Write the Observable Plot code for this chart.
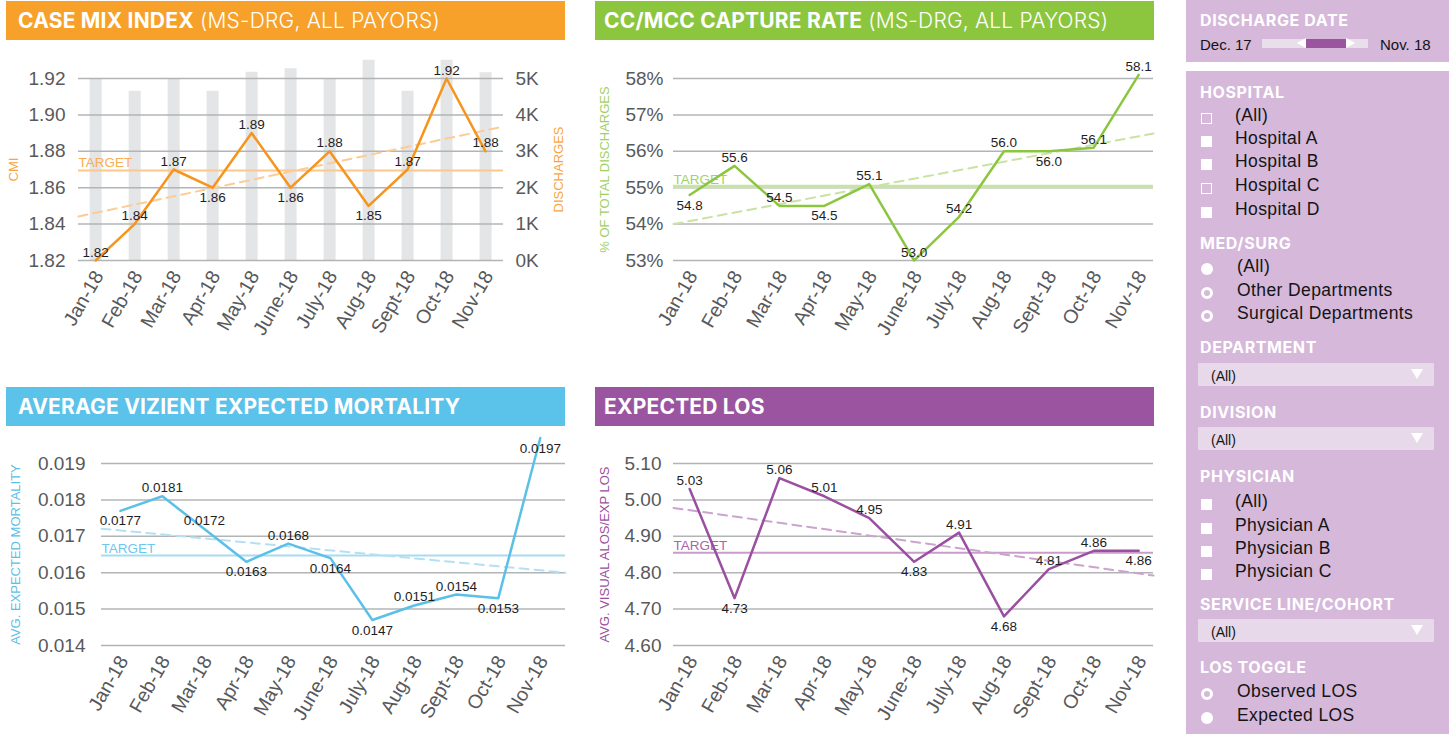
<!DOCTYPE html>
<html><head><meta charset="utf-8">
<script src="https://cdn.jsdelivr.net/npm/d3@7"></script>
<script src="https://cdn.jsdelivr.net/npm/@observablehq/plot@0.6"></script>
<style>
body{margin:0;width:1449px;height:734px;overflow:hidden;background:#fff;position:relative;font-family:"Liberation Sans",Arial,sans-serif}
.hdr{position:absolute;height:39px;color:#fff;font-family:Inter,sans-serif;font-size:21px;display:flex;align-items:center;box-sizing:border-box;white-space:nowrap;letter-spacing:0.2px}
.hdr b{font-weight:700}
.hdr span{font-weight:300}
.chart{position:absolute}
.chart svg{position:absolute;left:0;top:0}
.box{position:absolute;background:#d5b8da}
.abs{position:absolute;line-height:1;white-space:nowrap}
.h{font-family:Inter,sans-serif;font-weight:700;font-size:16px;color:#fff;letter-spacing:0.6px}
.it{font-size:17.5px;color:#141414;letter-spacing:0.4px}
.cb{position:absolute;width:11px;height:11px;box-sizing:border-box}
.cb.on{background:#fff}
.cb.off{border:1.5px solid #fff}
.rd{position:absolute;width:12px;height:12px;border-radius:50%;box-sizing:border-box}
.rd.on{background:#fff}
.rd.off{border:3px solid #fff}
.dd{position:absolute;left:1198px;width:236px;height:23px;background:#e7d9ea}
.dd .t{position:absolute;left:13px;top:6px;font-size:14px;color:#141414;line-height:1}
.dd .a{position:absolute;right:11px;top:6px;width:0;height:0;border-left:6px solid transparent;border-right:6px solid transparent;border-top:10px solid #fff}
</style></head>
<body>
<div class="chart" id="c1" style="left:0;top:40px;width:580px;height:340px"></div>
<div class="chart" id="c2" style="left:590px;top:40px;width:590px;height:340px"></div>
<div class="chart" id="c3" style="left:0;top:425px;width:580px;height:309px"></div>
<div class="chart" id="c4" style="left:590px;top:425px;width:590px;height:309px"></div>

<div class="hdr" style="left:6px;top:1px;width:559px;background:#f7a12a;padding-left:12px"><b>CASE MIX INDEX</b><span>&nbsp;(MS-DRG, ALL PAYORS)</span></div>
<div class="hdr" style="left:595px;top:1px;width:559px;background:#8cc63f;padding-left:9px"><b>CC/MCC CAPTURE RATE</b><span>&nbsp;(MS-DRG, ALL PAYORS)</span></div>
<div class="hdr" style="left:6px;top:387px;width:559px;background:#5bc2e9;padding-left:12px"><b>AVERAGE VIZIENT EXPECTED MORTALITY</b></div>
<div class="hdr" style="left:595px;top:387px;width:559px;background:#9b55a0;padding-left:9px"><b>EXPECTED LOS</b></div>

<div id="side"></div>

<script>
// ---- data ----
const months = ["Jan-18","Feb-18","Mar-18","Apr-18","May-18","June-18","July-18","Aug-18","Sept-18","Oct-18","Nov-18"];

const cmi = [1.82,1.84,1.87,1.86,1.89,1.86,1.88,1.85,1.87,1.92,1.88];
const discharges = [5000,4650,5000,4650,5170,5270,5000,5500,4650,5500,5160];
const cmiTarget = 1.8695;
const cmiTrend = [1.8442,1.8936];
const cmiTicks = [1.82,1.84,1.86,1.88,1.90,1.92];
const dischargeTicks = [0,1000,2000,3000,4000,5000];

const ccRate = [54.8,55.6,54.5,54.5,55.1,53.0,54.2,56.0,56.0,56.1,58.1];
const ccTarget = 55.03;
const ccTrend = [54.0,56.49];
const ccTicks = [53,54,55,56,57,58];

const mortality = [0.0177,0.0181,0.0172,0.0163,0.0168,0.0164,0.0147,0.0151,0.0154,0.0153,0.0197];
const mortTarget = 0.01647;
const mortTrend = [0.01721,0.0160];
const mortTicks = [0.014,0.015,0.016,0.017,0.018,0.019];

const expLos = [5.03,4.73,5.06,5.01,4.95,4.83,4.91,4.68,4.81,4.86,4.86];
const losTarget = 4.855;
const losTrend = [4.978,4.792];
const losTicks = [4.6,4.7,4.8,4.9,5.0,5.1];

// label side (t = above point, b = below point)
const cmiSide  = ["t","t","t","b","t","b","t","b","t","t","t"];
const ccSide   = ["b","t","t","b","t","t","t","t","b","t","t"];
const mortSide = ["b","t","t","b","t","b","b","t","t","b","b"];
const losSide  = ["t","b","t","t","t","b","t","b","t","t","b"];

// ---- drawing ----
const FONT = "Liberation Sans, Arial, sans-serif";
const AXC = "#58595b";
const idx = d3.range(months.length);

function linePanel(c) {
  const data = c.values.map((v,i)=>({i, v, side: c.sides[i]}));
  return Plot.plot({
    width: c.width, height: c.height,
    marginLeft: c.ml, marginRight: c.mr, marginTop: c.mt, marginBottom: c.mb,
    x: {domain: c.xDomain, axis: null},
    y: {domain: c.yDomain, axis: null},
    style: {background: "transparent", overflow: "visible", fontFamily: FONT},
    marks: [
      Plot.gridY(c.yTicks, {stroke: "#b2b4b6", strokeOpacity: 1, strokeWidth: 1.5}),
      Plot.axisY(c.yTicks, {tickSize: 0, tickPadding: c.tickPad, tickFormat: c.yFmt, fontSize: 19, color: AXC, label: null}),
      Plot.axisX(idx, {tickSize: 0, tickPadding: 12, tickRotate: -60, tickFormat: i => months[i], fontSize: 19.5, color: AXC, label: null, dx: 3}),
      Plot.text([c.title], {frameAnchor: "left", textAnchor: "middle", dx: -c.titleDx, rotate: -90, fill: c.titleColor, fontSize: 13}),
      Plot.ruleY([c.target], {stroke: c.targetColor, strokeWidth: c.targetWidth}),
      Plot.text([c.target], {y: d => d, frameAnchor: "left", textAnchor: "start", lineAnchor: "bottom", dy: -3, text: () => "TARGET", fill: c.targetText, fontSize: 13.5}),
      Plot.line(c.trend.map((v,k)=>({x: c.xDomain[k], v})), {x: "x", y: "v", stroke: c.trendColor, strokeWidth: 2, strokeDasharray: "9,6"}),
      Plot.line(data, {x: "i", y: "v", stroke: c.color, strokeWidth: 2.5}),
      Plot.text(data.filter(d=>d.side==="t"), {x: "i", y: "v", text: d => c.fmt(d.v), lineAnchor: "bottom", dy: -4, fontSize: 13.5, fill: "#1e1e1e"}),
      Plot.text(data.filter(d=>d.side==="b"), {x: "i", y: "v", text: d => c.fmt(d.v), lineAnchor: "top", dy: 5, fontSize: 13.5, fill: "#1e1e1e"})
    ]
  });
}

// Panel 1: bars (discharges) underneath, CMI line on top
const p1 = {width: 580, height: 340, ml: 78, mr: 77, mt: 38, mb: 120, xDomain: [-0.44, 10.46]};
const bars = Plot.plot({
  width: p1.width, height: p1.height,
  marginLeft: p1.ml, marginRight: p1.mr, marginTop: p1.mt, marginBottom: p1.mb,
  x: {domain: p1.xDomain, axis: null},
  y: {domain: [0,5000], axis: null},
  style: {background: "transparent", overflow: "visible", fontFamily: FONT},
  marks: [
    Plot.ruleX(discharges.map((d,i)=>({i, d})), {x: "i", y1: 0, y2: "d", stroke: "#e4e5e6", strokeWidth: 12}),
    Plot.axisY(dischargeTicks, {anchor: "right", tickSize: 0, tickPadding: 12, tickFormat: v => (v/1000) + "K", fontSize: 19, color: AXC, label: null}),
    Plot.text(["DISCHARGES"], {frameAnchor: "right", textAnchor: "middle", dx: 55, rotate: -90, fill: "#f8a540", fontSize: 13})
  ]
});
document.getElementById("c1").append(bars);
document.getElementById("c1").append(linePanel({
  ...p1, yDomain: [1.82,1.92], yTicks: cmiTicks, yFmt: d3.format(".2f"), tickPad: 13,
  values: cmi, sides: cmiSide, fmt: d3.format(".2f"),
  target: cmiTarget, trend: cmiTrend,
  color: "#f7941d", targetColor: "#fcc88c", targetWidth: 2, targetText: "#f9ae55", trendColor: "#fdcb94",
  title: "CMI", titleColor: "#f8a540", titleDx: 65
}));

document.getElementById("c2").append(linePanel({
  width: 590, height: 340, ml: 83, mr: 27, mt: 38, mb: 120, xDomain: [-0.36, 10.33],
  yDomain: [53,58], yTicks: ccTicks, yFmt: v => v + "%", tickPad: 10,
  values: ccRate, sides: ccSide, fmt: d3.format(".1f"),
  target: ccTarget, trend: ccTrend,
  color: "#8cc63f", targetColor: "#c8e3a6", targetWidth: 3.5, targetText: "#a3d26a", trendColor: "#c8e3a3",
  title: "% OF TOTAL DISCHARGES", titleColor: "#9fd063", titleDx: 69
}));

document.getElementById("c3").append(linePanel({
  width: 580, height: 309, ml: 101, mr: 15, mt: 38, mb: 89, xDomain: [-0.45, 10.6],
  yDomain: [0.014,0.019], yTicks: mortTicks, yFmt: d3.format(".3f"), tickPad: 16,
  values: mortality, sides: mortSide, fmt: d3.format(".4f"),
  target: mortTarget, trend: mortTrend,
  color: "#5bc0e8", targetColor: "#a7dcf2", targetWidth: 2, targetText: "#6ec7ec", trendColor: "#b4e0f3",
  title: "AVG. EXPECTED MORTALITY", titleColor: "#5bc0e8", titleDx: 86
}));

document.getElementById("c4").append(linePanel({
  width: 590, height: 309, ml: 83, mr: 27, mt: 38, mb: 89, xDomain: [-0.36, 10.33],
  yDomain: [4.6,5.1], yTicks: losTicks, yFmt: d3.format(".2f"), tickPad: 12,
  values: expLos, sides: losSide, fmt: d3.format(".2f"),
  target: losTarget, trend: losTrend,
  color: "#9b4fa0", targetColor: "#c99ccc", targetWidth: 2, targetText: "#a865ab", trendColor: "#cba4ce",
  title: "AVG. VISUAL ALOS/EXP LOS", titleColor: "#9b4fa0", titleDx: 69
}));

// ---- sidebar (filters) ----
const side = document.getElementById("side");
function el(cls, style, text) {
  const d = document.createElement("div");
  d.className = cls; d.setAttribute("style", style);
  if (text != null) d.textContent = text;
  side.append(d); return d;
}
el("box", "left:1186px;top:0;width:263px;height:62px");
el("box", "left:1186px;top:71px;width:263px;height:663px");
function heading(t, base) { el("abs h", `left:1200px;top:${base-14}px`, t); }
function item(t, base, x) { el("abs it", `left:${x}px;top:${base-15}px`, t); }
heading("DISCHARGE DATE", 26);
el("abs", "left:1200px;top:37px;font-size:15px;color:#141414", "Dec. 17");
el("abs", "left:1380px;top:37px;font-size:15px;color:#141414", "Nov. 18");
el("abs", "left:1262px;top:39px;width:106px;height:9px;background:#e9dfeb");
el("abs", "left:1306px;top:39px;width:40px;height:9px;background:#9b55a0");
el("abs", "left:1297px;top:38px;width:0;height:0;border-top:5.5px solid transparent;border-bottom:5.5px solid transparent;border-right:9px solid #fff");
el("abs", "left:1346px;top:38px;width:0;height:0;border-top:5.5px solid transparent;border-bottom:5.5px solid transparent;border-left:9px solid #fff");

heading("HOSPITAL", 98);
const hosp = [["(All)","off",122],["Hospital A","on",145],["Hospital B","on",168],["Hospital C","off",192],["Hospital D","on",216]];
hosp.forEach(([t,s,b]) => { el("cb " + s, `left:1201px;top:${b-9}px`); item(t, b, 1235); });

heading("MED/SURG", 249);
const med = [["(All)","on",273],["Other Departments","off",297],["Surgical Departments","off",320]];
med.forEach(([t,s,b]) => { el("rd " + s, `left:1201px;top:${b-10}px`); item(t, b, 1237); });

heading("DEPARTMENT", 353);
function dropdown(top) {
  const d = el("dd", `top:${top}px`);
  const t = document.createElement("div"); t.className = "t"; t.textContent = "(All)"; d.append(t);
  const a = document.createElement("div"); a.className = "a"; d.append(a);
}
dropdown(363);
heading("DIVISION", 418);
dropdown(427);
heading("PHYSICIAN", 482);
const phys = [["(All)",508],["Physician A",532],["Physician B",555],["Physician C",578]];
phys.forEach(([t,b]) => { el("cb on", `left:1201px;top:${b-9}px`); item(t, b, 1235); });
heading("SERVICE LINE/COHORT", 610);
dropdown(619);
heading("LOS TOGGLE", 673);
const los = [["Observed LOS","off",698],["Expected LOS","on",722]];
los.forEach(([t,s,b]) => { el("rd " + s, `left:1201px;top:${b-10}px`); item(t, b, 1237); });
</script>
</body></html>
